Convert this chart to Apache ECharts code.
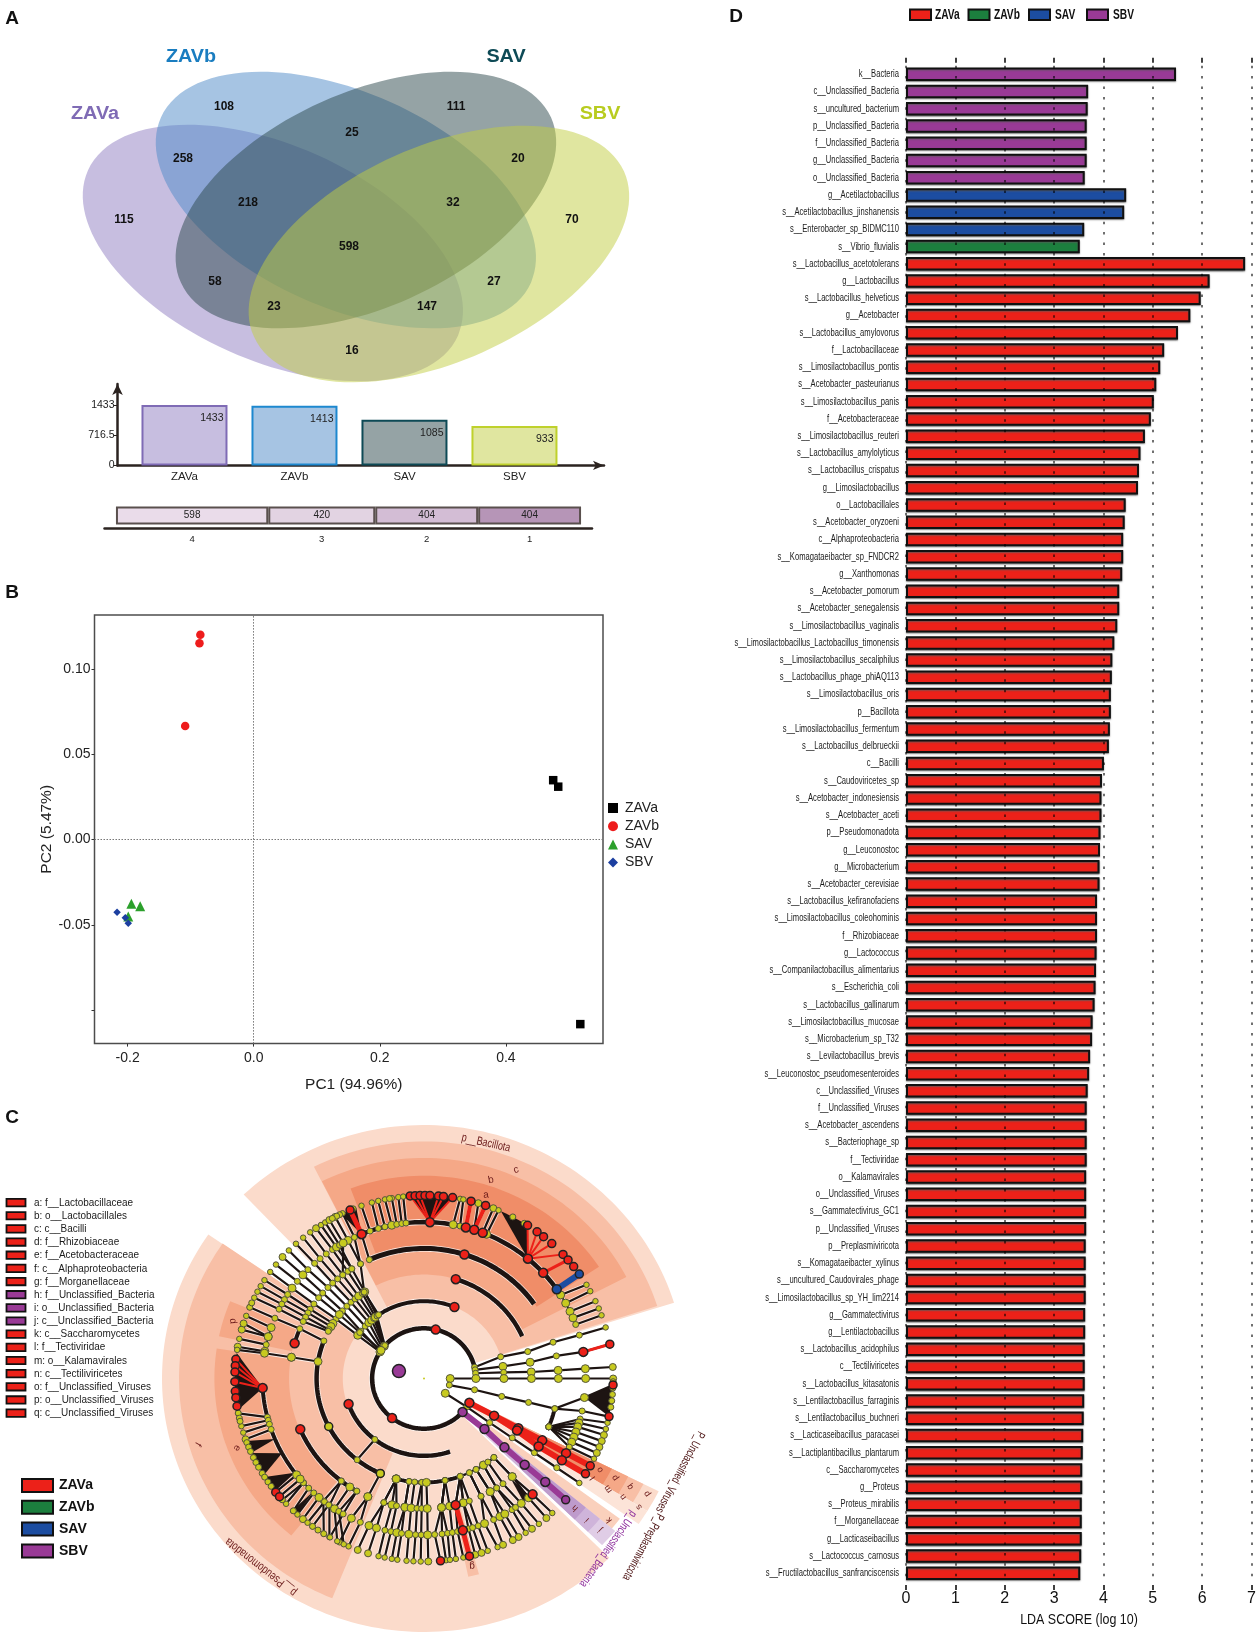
<!DOCTYPE html>
<html><head><meta charset="utf-8">
<style>html,body{margin:0;padding:0;background:#fff}#c{width:1259px;height:1637px}</style>
<script src="https://cdn.jsdelivr.net/npm/echarts@6/dist/echarts.min.js"></script>
</head><body><div id="c"></div>
<script>
const ARIAL = '"Liberation Sans",Arial,sans-serif';
const groupNames = ['ZAVa','ZAVb','SAV','SBV'];
const groupColors = ['#EC2119','#1C7F3E','#1C4DA1','#993A96'];

/* ---------- Panel D ---------- */
const ldaNames = ['k__Bacteria','c__Unclassified_Bacteria','s__uncultured_bacterium','p__Unclassified_Bacteria','f__Unclassified_Bacteria','g__Unclassified_Bacteria','o__Unclassified_Bacteria','g__Acetilactobacillus','s__Acetilactobacillus_jinshanensis','s__Enterobacter_sp_BIDMC110','s__Vibrio_fluvialis','s__Lactobacillus_acetotolerans','g__Lactobacillus','s__Lactobacillus_helveticus','g__Acetobacter','s__Lactobacillus_amylovorus','f__Lactobacillaceae','s__Limosilactobacillus_pontis','s__Acetobacter_pasteurianus','s__Limosilactobacillus_panis','f__Acetobacteraceae','s__Limosilactobacillus_reuteri','s__Lactobacillus_amylolyticus','s__Lactobacillus_crispatus','g__Limosilactobacillus','o__Lactobacillales','s__Acetobacter_oryzoeni','c__Alphaproteobacteria','s__Komagataeibacter_sp_FNDCR2','g__Xanthomonas','s__Acetobacter_pomorum','s__Acetobacter_senegalensis','s__Limosilactobacillus_vaginalis','s__Limosilactobacillus_Lactobacillus_timonensis','s__Limosilactobacillus_secaliphilus','s__Lactobacillus_phage_phiAQ113','s__Limosilactobacillus_oris','p__Bacillota','s__Limosilactobacillus_fermentum','s__Lactobacillus_delbrueckii','c__Bacilli','s__Caudoviricetes_sp','s__Acetobacter_indonesiensis','s__Acetobacter_aceti','p__Pseudomonadota','g__Leuconostoc','g__Microbacterium','s__Acetobacter_cerevisiae','s__Lactobacillus_kefiranofaciens','s__Limosilactobacillus_coleohominis','f__Rhizobiaceae','g__Lactococcus','s__Companilactobacillus_alimentarius','s__Escherichia_coli','s__Lactobacillus_gallinarum','s__Limosilactobacillus_mucosae','s__Microbacterium_sp_T32','s__Levilactobacillus_brevis','s__Leuconostoc_pseudomesenteroides','c__Unclassified_Viruses','f__Unclassified_Viruses','s__Acetobacter_ascendens','s__Bacteriophage_sp','f__Tectiviridae','o__Kalamavirales','o__Unclassified_Viruses','s__Gammatectivirus_GC1','p__Unclassified_Viruses','p__Preplasmiviricota','s__Komagataeibacter_xylinus','s__uncultured_Caudovirales_phage','s__Limosilactobacillus_sp_YH_lim2214','g__Gammatectivirus','g__Lentilactobacillus','s__Lactobacillus_acidophilus','c__Tectiliviricetes','s__Lactobacillus_kitasatonis','s__Lentilactobacillus_farraginis','s__Lentilactobacillus_buchneri','s__Lacticaseibacillus_paracasei','s__Lactiplantibacillus_plantarum','c__Saccharomycetes','g__Proteus','s__Proteus_mirabilis','f__Morganellaceae','g__Lacticaseibacillus','s__Lactococcus_carnosus','s__Fructilactobacillus_sanfranciscensis'];
const ldaScores = [5.47,3.69,3.68,3.66,3.66,3.66,3.62,4.46,4.42,3.61,3.52,6.87,6.15,5.97,5.76,5.51,5.23,5.15,5.07,5.02,4.96,4.84,4.75,4.72,4.70,4.45,4.43,4.40,4.40,4.38,4.32,4.32,4.28,4.22,4.18,4.17,4.15,4.15,4.13,4.11,4.01,3.97,3.96,3.96,3.94,3.93,3.92,3.92,3.87,3.87,3.87,3.86,3.85,3.84,3.82,3.78,3.77,3.73,3.71,3.68,3.66,3.66,3.66,3.66,3.65,3.65,3.65,3.65,3.64,3.64,3.64,3.64,3.63,3.63,3.62,3.62,3.62,3.61,3.60,3.59,3.58,3.57,3.57,3.56,3.56,3.56,3.55,3.53];
const ldaGroupOfRow = i => i<7 ? 3 : i<10 ? 2 : i<11 ? 1 : 0;
const ldaTicks = [0,1,2,3,4,5,6,7];

/* ---------- Panel B ---------- */
const pcaZAVa = [[0.475,0.0348],[0.483,0.031],[0.518,-0.108]];
const pcaZAVb = [[-0.0846,0.120],[-0.086,0.115],[-0.1087,0.0665]];
const pcaSAV  = [[-0.194,-0.0376],[-0.18,-0.039],[-0.199,-0.045]];
const pcaSBV  = [[-0.2167,-0.0425],[-0.2036,-0.0457],[-0.199,-0.0489]];

/* ---------- Panel A ---------- */
const vennTotals = [1433,1413,1085,933];
const vennFills = ['#C7BEE0','#A6C4E3','#95A3A5','#E0E6A0'];
const vennEdges = ['#7F6BB5','#1D88CF','#0E4A56','#BFD12C'];
const vennOverlay = ['rgba(143,125,193,.5)','rgba(77,137,199,.5)','rgba(43,71,75,.5)','rgba(193,205,65,.5)'];
const vennCounts = ['108','111','25','258','20','218','32','115','70','598','58','27','23','147','16'];
const vennSpots = [[224,107],[456,107],[352,133],[183,159],[518,159],[248,203],[453,203],[124,220],[572,220],[349,247],[215,282],[494,282],[274,307],[427,307],[352,351]];
const tierCounts = [598,420,404,404];
const tierLabels = ['4','3','2','1'];
const tierFills = ['#EADCEA','#E2D3E2','#D3BDD5','#B695B7'];

/* ---------- Panel C: levels k,p,c,o,f,g,s ---------- */
const levelR = [.10,.198,.305,.41,.513,.617,.722];
const cladeKeyLabels = ['a: f__Lactobacillaceae','b: o__Lactobacillales','c: c__Bacilli','d: f__Rhizobiaceae','e: f__Acetobacteraceae','f: c__Alphaproteobacteria','g: f__Morganellaceae','h: f__Unclassified_Bacteria','i: o__Unclassified_Bacteria','j: c__Unclassified_Bacteria','k: c__Saccharomycetes','l: f__Tectiviridae','m: o__Kalamavirales','n: c__Tectiliviricetes','o: f__Unclassified_Viruses','p: o__Unclassified_Viruses','q: c__Unclassified_Viruses'];
const cladeKeyGroup = [0,0,0,0,0,0,0,3,3,3,0,0,0,0,0,0,0];
const L1='#FBDBCB',L2='#F8BFA6',L3='#F5A887',L4='#F08D68';
const cladeSectors = [
 [17.4,133.5,.205,1,L1],[17.8,116.7,.305,.935,L2],[27.4,116.6,.41,.87,L3],[33.4,110.5,.515,.80,L4],
 [145.4,315,.205,1,L1],[145.3,248,.31,.935,L2],[171.5,230.7,.515,.80,L3],[157.6,168,.515,.80,L3],[282.2,285.2,.515,.80,L2],
 [-26.4,-31.5,.205,1,L1],[-26.4,-31.5,.31,.935,L2],[-26.4,-31.5,.41,.87,L3],[-26.4,-31.5,.515,.80,L4],
 [-31.5,-35,.205,1,'#FCE4D8'],[-36.5,-40,.31,.93,'#FAD0BC'],
 [-39.5,-44,.205,.945,'#EFE4F1'],[-39.5,-44,.31,.945,'#E0CDE6'],[-39.5,-44,.41,.87,'#CFB4DA'],[-39.5,-44,.515,.80,'#BE9BCC']
];
const cladeArcs = [
 [1,13,318.6,4.5],[2,67.6,124.6,4],[3,24,72.8,4.5],[4,35,114,5],[5,34.8,112.7,4.5],
 [2,199.3,289,4.5],[3,158,246,4.5],[4,157.5,164.3,4],[4,203,240,4.5],[5,183.5,222,4],[5,161,171,2],
 [3,255,290,4],[3,290,311,2.5],[4,252.6,258.2,1.5],[4,-13.4,-21.8,4],[5,20,34,2],[5,-14,-26,1.5],[5,194.3,199,2],[5,221.8,234,2]
];
const cladeLineages = [
 [1,147,142.2,139.4,138.9,138.5,138.4],[1,145,137.4,135.9,135.6,135.9,135.6],[1,143,133.7,132.8,132.8,132.6,132.6],[1,141,131,130,130,130,129.7],[1,140,129,127.5,127.2,127.2,127],[1,139.8,127.5,125,124.5,124.5,124.8],[1,139,126,123.5,122.5,122.8,123],
 [1,148,146,145,145,144.7,144.4],[1,146,143.5,142,141.6,141.6,141.5],[3,148,147.8,147.5,147.5],[3,150,149.7,149.7,149.7],[3,152,151.8,151.6,151.7],[3,153,154,153.7,153.8],[3,158.8,157.5,157.3,157.1],
 [2,124.6,123.8,118.2,115.5,115.5],[4,118.2,118,118],[4,122.5,121.5,121.5],[4,127.2,120,120],[4,114,112.7,113],
 [5,109.5,109.3],[5,106.4,106],[5,104,104],[5,101.5,101.9],[5,99.7,99.8],[5,97.9,97.8],[5,96.4,96.3],[5,79.6,79],[5,77.1,78],[5,75,75.6],[5,71.9,73.3],[5,71.9,71],[5,68.7,68.5],[5,67.2,66.8],
 [5,32.3,30.8],[5,28.8,28.5],[5,25.4,25],[5,22.8,22.5],[5,20.2,20.2],
 [2,232,231.5],[3,246,245.3,246.8,246.5],[4,245.3,243.3,243.5],[4,232,231.5,238],[4,232,234.2,240],[4,236.5,236.4,242.7],[4,240,238.2,244.9],[4,240,240,240.2],
 [3,255,252.6,250.1,249.5],[3,255,252.6,252.9,252.8],[3,255,256.2,256,256.1],[3,255,258.2,258.2,258],[3,262,261.8,260.3,260.2],[3,262,261.8,262,261.9],[3,265,264.5,264.6,264.7],[3,268.8,267,267,266.8],[3,268.8,269,269,269],[3,271.3,271.4,271.3,271.3],[3,281.3,277.5,273.8,275],[3,281.3,277.5,276.4,276.7],[3,281.3,277.5,278.4,277.9],[3,281.3,281,280.1,279.7],[3,289.7,283.6,282,282],[3,289.7,283.6,283.9,283.9],[3,289.7,287,286,285.7],[3,289.7,287,287.5,287.7],[3,289.7,289.7,289.6,289.7],[3,295,295.1,292,292.9],[3,295,295.1,295.5,294.7],[3,299,299.5,298,298],[3,299,299.5,300,300],[3,303.6,302.7,303,302.5],[3,303.6,302.7,304.5,304.8],[3,306.5,306,307,307.4],[3,310.6,311,310.3,310.3],[3,310.6,311,312.2,312.7],
 [1,13,16.3,15,16.2,16.1,16.2],[1,10,9,9,10,9.8,10.8],[1,6,4.5,3.6,3.6,3.6,3.6],[0,0,0,0,0,0,0,0],[0,-15,-13,-13.4,-13.3,-13.4,-12,-12],[4,-13.4,-7,-2],[0,-35.7,-34.5,-34.8,-34.8,-34.8,-34.8,-34.8],
 [4,-21.8,-15,-14],[4,-21.8,-16.5,-16],[4,-21.8,-18,-18],[4,-21.8,-20,-20],[4,-21.8,-22,-22],[4,-21.8,-24,-24],[4,-21.8,-26,-26],
 [5,164.5,164.5,164.5],[5,161,160,160],[5,164.5,162.5,162.5],[5,167.5,167.5],[5,170,170],[4,170.6,170.7,171],[3,170.6,170.6],
 [5,194.3,191],[5,195.5,195.1],[5,197,197.2],[5,199,199.4],[5,221.8,221.5],[5,221.8,223.2],[5,224.5,226.3],[5,227,228],[5,229.5,230.2],[5,232,232],[5,233.9,233.9],[5,218,218.4],[5,220,220.2]
];
const cladeFans = [
 [5,87.9,81.3,94.2],[5,50,57,66],[5,112.7,111,116],[5,183.5,172,190],[5,202.8,200,204],[5,208.5,204,212],[5,217,212.6,218],[5,-7,-12,-2],[5,226.5,226,228],[4,310,308,311]
];
const cladeColoredPaths = [
 [1,0,6,-29,-28.7,-28.6,-28.4,-28.5,-28.5],[2,0,6,-28.7,-30,-31.5,-31.5,-31.4],[1,3,6,-42,-40.8,-41.5,-41.5,-41.4,-41.5],
 [4,0,5,283.6,283.9,283.9],[5,0,5,112.7,113],[5,0,4,75,75.6],[5,0,4,71.9,71],[5,0,3,42.5,40.4],[5,2,6,34.8,34.8],[5,0,3,9.8,10.8],
 [5,0,1.5,87.9,94.2],[5,0,2,87.9,92.7],[5,0,2,87.9,91.2],[5,0,2,87.9,85.6],[5,0,2,87.9,84.1],[5,0,2,87.9,81.3],
 [5,0,2,50,56.8],[5,0,2,50,53.3],[5,0,2,50,50.8],[5,0,2,50,47.5],[5,0,2,50,42.7],
 [5,0,2,183.5,174],[5,0,2,183.5,176],[5,0,2,183.5,178],[5,0,2,183.5,181]
];
const leafAnglesLoose = [157.1,155.6,112,116.5,100.5,190.9,192.5,193.5,200.5,202,203.5,205.6,207.3,209,211.2,212.6,214.4,216.1,221.5,226.3,233.9,235.9,238,-1,-3,-5,-7,-9,117.5,119,58,62];
const cladeMarkedNodes = [
 [1,77,0],[1,232,0],[2,67.6,0],[2,199.3,0],[3,72.8,0],[3,207.5,4],[3,246,4],[4,72.5,0],[4,164.3,0],[4,203,0],[5,112.7,0],[5,87.9,0],[5,75,0],[5,71.9,0],[5,68.7,0],[5,50,0],[5,183.5,0],[5,312.2,0],[5,9.8,0],[5,42.5,0],[5,283.9,0],[4,283.6,0],
 [6,113,0],[6,94.2,0],[6,92.7,0],[6,91.2,0],[6,89.7,0],[6,88.2,0],[6,85.6,0],[6,84.1,0],[6,81.3,0],[6,75.6,0],[6,71,0],[6,56.8,0],[6,53.3,0],[6,50.8,0],[6,47.5,0],[6,42.7,0],[6,40.4,0],[6,37.7,0],[6,174,0],[6,176,0],[6,178,0],[6,181,0],[6,184,0],[6,186,0],[6,188.7,0],[6,218.4,0],[6,220.2,0],[6,283.9,0],[6,275,0],[6,10.8,0],[6,-2,0],[6,-12,0],
 [1,-29,0],[2,-28.7,0],[3,-28.6,0],[4,-28.4,0],[5,-28.5,0],[6,-28.5,0],[3,-30,0],[4,-31.5,0],[5,-31.5,0],[6,-31.4,0],
 [1,-42,3],[2,-40.8,3],[3,-41.5,3],[4,-41.5,3],[5,-41.4,3],[6,-41.5,3],[5,34.8,2],[6,34.8,2],[0,163,3]
];
const cladeMiniLabels = [['c',516,1170,-.3,10],['b',491,1180,-.2,10],['a',486,1195,-.1,10],['d',233,1321,1.5,10],['e',237,1448,2.1,10],['f',198,1444,2.1,10],['g',472,1566,3.1,10],['o',600,1470,4.1,9],['l',593,1478,4.1,9],['p',615,1478,4.1,9],['m',608,1489,4.1,9],['q',630,1487,4.1,9],['n',623,1497,4.1,9],['p',647,1494,4.1,9],['s',639,1507,4.1,9],['k',609,1520,4.1,9],['h',575,1508,3.9,9],['i',587,1520,3.9,9],['j',600,1530,3.9,9]];
const cladePhylumLabels = [['p__Bacillota',486,1143,-.22,'#6B1A1A',.76],['p__Pseudomonadota',261,1567,2.48,'#6B1A1A',.76],['P_Unclassified_Viruses',680,1472,4.22,'#4a1010',.72],['P_Preplasmiviricota',643,1547,4.22,'#4a1010',.7],['p_Unclassified_Bacteria',608,1549,4.1,'#8E2E9C',.7]];

/* ---------- polar to cartesian inside the C grid ---------- */
const rad = d => d*Math.PI/180;
const pt = (r,a) => [r*Math.cos(rad(a)), r*Math.sin(rad(a))];
function arcPts(r,a1,a2){const s=[],n=Math.max(2,Math.ceil(Math.abs(a2-a1)/1.5));for(let i=0;i<=n;i++)s.push(pt(r,a1+(a2-a1)*i/n));return s;}

const cladePaths = [];
cladeArcs.forEach(([l,a,b,w])=>cladePaths.push({pts:arcPts(levelR[l],a,b),w,color:'#1d1412'}));
cladeLineages.forEach(row=>{const s=row[0],as=row.slice(1);cladePaths.push({pts:as.map((a,i)=>pt(levelR[s+i],a)),w:2.2,color:'#1d1412'});});
const fanPolys = cladeFans.map(([l,p,a,b])=>[pt(levelR[l],p)].concat(arcPts(levelR[l+1],a,b)));
const cladeColorOver = cladeColoredPaths.map(row=>{const s=row[0],as=row.slice(3);return {pts:as.map((a,i)=>pt(levelR[s+i],a)),w:row[2],color:groupColors[row[1]]};});
const yellow='#C7CA1F';
const cladeNodes=[];
cladeLineages.forEach(row=>{const s=row[0];row.slice(1).forEach((a,i)=>{const l=s+i;const big=(Math.abs(a*7.3)%5)<1.6;cladeNodes.push({value:pt(levelR[l],a),symbolSize:l===6?(big?7:5.5):(big?8:6),itemStyle:{color:yellow}});});});
leafAnglesLoose.forEach(a=>cladeNodes.push({value:pt(levelR[6],a),symbolSize:6,itemStyle:{color:yellow}}));
cladeMarkedNodes.forEach(([l,a,c])=>{const col=c===4?yellow:groupColors[c];const sz=l===0?13:(l===6?8:(c===4?8:9));cladeNodes.push({value:pt(levelR[l],a),symbolSize:sz,itemStyle:{color:col,borderColor:'#222',borderWidth:1.5}});});

const polyRender = (polys,fillOf)=>(params,api)=>{const i=params.dataIndex;return{type:'polygon',silent:true,shape:{points:polys[i].map(p=>api.coord(p))},style:{fill:fillOf(i)}};};
const lineRender = (paths,halo)=>(params,api)=>{const p=paths[params.dataIndex];return{type:'polyline',silent:true,shape:{points:p.pts.map(q=>api.coord(q))},style:{fill:null,stroke:halo?'#fff':p.color,lineWidth:halo?p.w+1.6:p.w,opacity:halo?.75:1,lineCap:'butt',lineJoin:'round'}};};
const sectorPolys = cladeSectors.map(([a,b,r1,r2])=>arcPts(r2,a,b).concat(arcPts(r1,b,a)));
const idx = arr => arr.map((_,i)=>[i,0]);
const customC = (data,renderItem,z)=>({type:'custom',xAxisIndex:4,yAxisIndex:4,clip:false,silent:true,z,data,renderItem,animation:false});

/* ---------- option ---------- */
const dRows = ldaNames.map((_,i)=>i);
const dSeries = groupNames.map((g,gi)=>({
 name:g,type:'bar',xAxisIndex:0,yAxisIndex:0,barGap:'-100%',barWidth:13.5,z:2,
 itemStyle:{color:groupColors[gi],borderColor:'#111',borderWidth:2,shadowColor:'rgba(90,90,90,.8)',shadowBlur:1.5,shadowOffsetY:1},
 data:dRows.map(i=>ldaGroupOfRow(i)===gi?ldaScores[i]:null),
 ...(gi===0?{markLine:{silent:true,symbol:'none',z:6,label:{show:false},animation:false,
   lineStyle:{color:'rgba(0,0,0,.75)',width:1.5,type:[2.5,7.9]},data:ldaTicks.map(t=>({xAxis:t}))}}:{})
}));
const textEl = (text,x,y,o)=>({type:'text',x,y,z:o.z||20,rotation:o.rotation||0,scaleX:o.scaleX||1,silent:true,
  style:{text,fontFamily:ARIAL,fontSize:o.size,fontWeight:o.weight||'normal',fill:o.fill||'#111',align:o.align||'center',verticalAlign:'middle'}});
const dLegendRectX=[910,968.5,1029,1087], dLegendTextX=[935,994,1055,1113];

const option = {
 animation:false,backgroundColor:'#fff',
 textStyle:{fontFamily:ARIAL},
 grid:[
  {left:906,top:65.7,width:345.6,height:1516.2},
  {left:94.5,top:615,width:508.5,height:428.6,show:true,borderColor:'#4d4d4d',borderWidth:1.5,backgroundColor:'transparent'},
  {left:117.5,top:384,width:486.5,height:81.4},
  {left:104.5,top:503,width:487.5,height:25},
  {left:162,top:1125,width:524,height:507},
  {left:6,top:1196,width:200,height:223.7}
 ],
 xAxis:[
  {gridIndex:0,type:'value',min:0,max:7,interval:1,position:'bottom',offset:3,axisLine:{show:false},
   axisTick:{show:true,length:5,lineStyle:{color:'#111',width:1.6}},
   axisLabel:{fontSize:16,color:'#111',margin:6},splitLine:{show:false}},
  {gridIndex:1,type:'value',min:-0.2525,max:0.554,axisLine:{show:false,onZero:false},
   axisTick:{customValues:[-0.2,0,0.2,0.4],length:3,lineStyle:{color:'#333'}},
   axisLabel:{customValues:[-0.2,0,0.2,0.4],formatter:v=>v.toFixed(1),fontSize:14,color:'#222',margin:8},
   splitLine:{show:false},
   name:'PC1 (94.96%)',nameLocation:'middle',nameGap:33,nameTextStyle:{fontSize:15.5,color:'#222',padding:[0,0,0,10]}},
  {gridIndex:2,type:'value',min:-0.609,max:3.814,
   axisLine:{onZero:false,lineStyle:{color:'#2b2320',width:2.5},symbol:['none','arrow'],symbolSize:[7,11]},
   axisTick:{show:false},splitLine:{show:false},
   axisLabel:{customValues:[0,1,2,3],formatter:v=>groupNames[v],fontSize:11.5,color:'#222',margin:5}},
  {gridIndex:3,type:'value',min:-45,max:1869,
   axisLine:{show:true,onZero:false,lineStyle:{color:'#2b2320',width:2.5}},axisTick:{show:false},splitLine:{show:false},
   axisLabel:{customValues:tierCounts.map((c,i)=>tierCounts.slice(0,i).reduce((a,b)=>a+b,0)+c/2),
     formatter:v=>{let s=0;for(let i=0;i<tierCounts.length;i++){if(Math.abs(s+tierCounts[i]/2-v)<1)return tierLabels[i];s+=tierCounts[i];}return '';},fontSize:9.5,color:'#222',margin:6}},
  {gridIndex:4,type:'value',min:-1,max:1,show:false},
  {gridIndex:5,type:'value',min:0,max:200,show:false},
  {gridIndex:0,type:'value',min:0,max:7,interval:1,position:'top',offset:3,axisLine:{show:false},
   axisTick:{show:true,length:5,lineStyle:{color:'#111',width:1.6}},axisLabel:{show:false},splitLine:{show:false}}
 ],
 yAxis:[
  {gridIndex:0,type:'category',inverse:true,data:ldaNames,axisLine:{show:false},axisTick:{show:false},axisLabel:{show:false}},
  {gridIndex:1,type:'value',min:-0.1194,max:0.1315,axisLine:{show:false,onZero:false},
   axisTick:{customValues:[-0.1,-0.05,0,0.05,0.1],length:3,lineStyle:{color:'#333'}},
   axisLabel:{customValues:[-0.05,0,0.05,0.1],formatter:v=>v.toFixed(2),fontSize:14,color:'#222',margin:4},
   splitLine:{show:false},
   name:'PC2 (5.47%)',nameLocation:'middle',nameRotate:90,nameGap:23,nameTextStyle:{fontSize:15.5,color:'#222'}},
  {gridIndex:2,type:'value',min:0,max:1931,
   axisLine:{show:true,onZero:false,lineStyle:{color:'#2b2320',width:2.5},symbol:['none','arrow'],symbolSize:[8,11]},
   axisTick:{customValues:[0,716.5,1433],length:4,lineStyle:{color:'#2b2320'}},
   axisLabel:{customValues:[0,716.5,1433],formatter:v=>String(v),fontSize:10.5,color:'#222',margin:3},splitLine:{show:false}},
  {gridIndex:3,type:'category',data:['t'],show:false},
  {gridIndex:4,type:'value',min:-1,max:1,show:false},
  {gridIndex:5,type:'category',inverse:true,data:cladeKeyLabels,show:false}
 ],
 legend:[
  {data:[{name:'ZAVa',icon:'rect',itemStyle:{color:'#000',borderWidth:0,shadowBlur:0}},{name:'ZAVb',icon:'circle',itemStyle:{color:'#EE1C1C',borderWidth:0,shadowBlur:0}},{name:'SAV',icon:'triangle',itemStyle:{color:'#2CA02C',borderWidth:0,shadowBlur:0}},{name:'SBV',icon:'diamond',itemStyle:{color:'#1C3FA0',borderWidth:0,shadowBlur:0}}],
   left:608,top:801,padding:0,orient:'vertical',itemWidth:10,itemHeight:10,itemGap:4.2,selectedMode:false,textStyle:{fontSize:14,color:'#222',padding:[0,0,0,2]}},
  {data:groupNames.map((g,i)=>({name:g,icon:'rect',itemStyle:{color:groupColors[i],borderColor:'#111',borderWidth:2,shadowBlur:0}})),
   left:21,top:1478,padding:0,orient:'vertical',itemWidth:31,itemHeight:13,itemGap:6.8,selectedMode:false,textStyle:{fontSize:14,fontWeight:'bold',color:'#111',padding:[0,0,0,1]}}
 ],
 series:[
  ...dSeries,
  {type:'custom',xAxisIndex:0,yAxisIndex:0,silent:true,clip:false,z:3,data:ldaNames.map((_,i)=>[0,i]),
   renderItem:(p,api)=>{const c=api.coord([0,p.dataIndex]);return{type:'text',x:c[0]-7,y:c[1],scaleX:.725,silent:true,style:{text:ldaNames[p.dataIndex],fontFamily:ARIAL,fontSize:10.5,fill:'#1a1a1a',align:'right',verticalAlign:'middle'}};}},
  {name:'ZAVa',type:'scatter',xAxisIndex:1,yAxisIndex:1,symbol:'rect',symbolSize:8.5,itemStyle:{color:'#000',opacity:1},data:pcaZAVa,
   markLine:{silent:true,symbol:'none',label:{show:false},lineStyle:{color:'#777',type:[1.5,1.5],width:1},data:[{xAxis:0},{yAxis:0}]}},
  {name:'ZAVb',type:'scatter',xAxisIndex:1,yAxisIndex:1,symbol:'circle',symbolSize:8.5,itemStyle:{color:'#EE1C1C',opacity:1},data:pcaZAVb},
  {name:'SAV',type:'scatter',xAxisIndex:1,yAxisIndex:1,symbol:'triangle',symbolSize:10,itemStyle:{color:'#2CA02C',opacity:1},data:pcaSAV},
  {name:'SBV',type:'scatter',xAxisIndex:1,yAxisIndex:1,symbol:'diamond',symbolSize:7.5,itemStyle:{color:'#1C3FA0',opacity:1},data:pcaSBV},
  {type:'bar',xAxisIndex:2,yAxisIndex:2,barWidth:86,data:vennTotals.map((v,i)=>({value:[i,v],itemStyle:{color:vennFills[i],borderColor:vennEdges[i],borderWidth:2}})),
   label:{show:true,position:'insideTopRight',distance:4,offset:[0,4],formatter:p=>p.value[1],fontSize:10.5,color:'#222'}},
  ...tierCounts.map((c,i)=>({type:'bar',xAxisIndex:3,yAxisIndex:3,stack:'tier',barWidth:18,data:[c],
   itemStyle:{color:tierFills[i],borderColor:'#5a504e',borderWidth:2},label:{show:true,position:'inside',fontSize:10,color:'#222'}})),
  customC(idx(sectorPolys),polyRender(sectorPolys,i=>cladeSectors[i][4]),1),
  customC(idx(cladePaths),lineRender(cladePaths,true),3),
  customC(idx(fanPolys),polyRender(fanPolys,()=>'#1d1412'),4),
  customC(idx(cladePaths),lineRender(cladePaths,false),5),
  customC(idx(cladeColorOver),lineRender(cladeColorOver,false),6),
  {type:'scatter',xAxisIndex:4,yAxisIndex:4,clip:false,z:7,symbol:'circle',silent:true,
   itemStyle:{borderColor:'#55553a',borderWidth:1,opacity:1},data:cladeNodes.concat([{value:[0,0],symbolSize:2,itemStyle:{color:yellow,borderWidth:0}}])},
  {type:'custom',xAxisIndex:5,yAxisIndex:5,silent:true,clip:false,z:3,data:cladeKeyLabels.map((n,i)=>[10,i]),
   renderItem:(p,api)=>{const i=p.dataIndex,c=api.coord([10,i]);return{type:'group',silent:true,children:[
     {type:'rect',shape:{x:c[0]-9.5,y:c[1]-3.7,width:19,height:7.4},style:{fill:groupColors[cladeKeyGroup[i]],stroke:'#111',lineWidth:1.8}},
     {type:'text',x:c[0]+18,y:c[1],scaleX:.865,style:{text:cladeKeyLabels[i],fontFamily:ARIAL,fontSize:11.5,fill:'#1a1a1a',align:'left',verticalAlign:'middle'}}]};}}
 ],
 graphic:[
  ...[['A',12,19],['B',12,593],['C',12,1118],['D',736,17]].map(([t,x,y])=>textEl(t,x,y,{size:19,weight:'bold'})),
  textEl('LDA SCORE (log 10)',1079,1620,{size:15,scaleX:.83}),
  ...groupNames.map((g,i)=>({type:'rect',silent:true,z:20,shape:{x:dLegendRectX[i],y:9.5,width:21,height:10.5},style:{fill:groupColors[i],stroke:'#111',lineWidth:2}})),
  ...groupNames.map((g,i)=>textEl(g,dLegendTextX[i],14.5,{size:15,weight:'bold',scaleX:.68,align:'left'})),
  ...[[273,253,-1],[346,200,-1],[366,200,1],[439,254,1]].map(([x,y,s],i)=>({type:'ellipse',x,y,rotation:s*24*Math.PI/180,shape:{cx:0,cy:0,rx:202.6,ry:107.6},style:{fill:vennOverlay[i]},z:i,silent:true})),
  ...vennCounts.map((t,i)=>textEl(t,vennSpots[i][0],vennSpots[i][1],{size:12,weight:'bold',z:10})),
  ...[['ZAVa',95,114],['ZAVb',191,57],['SAV',506,57],['SBV',600,114]].map(([t,x,y],i)=>textEl(t,x,y,{size:18,weight:'bold',scaleX:1.1,z:10,fill:['#7F6BB5','#1A7DC0','#0E4A56','#B8CC20'][i]})),
  ...cladeMiniLabels.map(([t,x,y,r,f])=>textEl(t,x,y,{size:f,rotation:-r,fill:'#6B1A1A'})),
  ...cladePhylumLabels.map(([t,x,y,r,c,s])=>textEl(t,x,y,{size:12,rotation:r,scaleX:s,fill:c}))
 ]
};
const chart = echarts.init(document.getElementById('c'),null,{renderer:'canvas'});
chart.setOption(option);
</script></body></html>
